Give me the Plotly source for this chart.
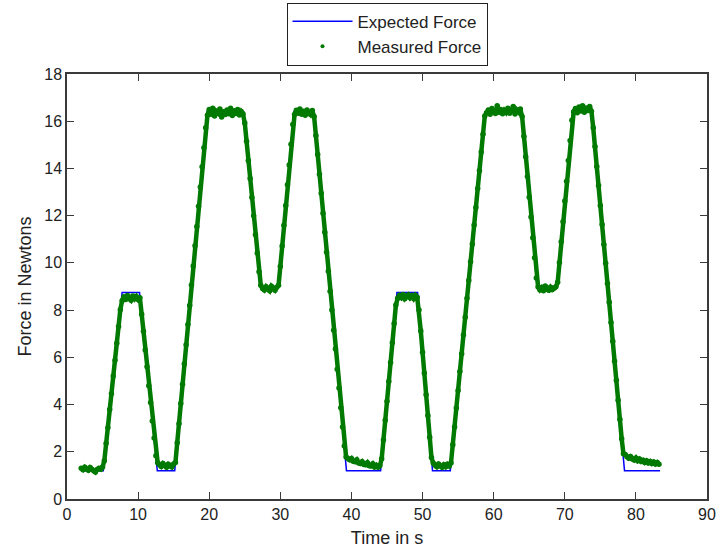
import plotly.graph_objects as go

# Expected (commanded) force profile: corner points of the trapezoidal trajectory
expected_time = [2.0, 5.1, 7.75, 10.2, 12.7, 15.15, 19.7, 24.85, 27.2, 29.75, 31.9, 34.7, 39.3,
                 44.1, 46.4, 49.3, 51.4, 53.9, 58.8, 63.95, 66.1, 68.95, 71.1, 73.8, 78.4, 83.4]
expected_force = [1.2, 1.2, 8.75, 8.75, 1.2, 1.2, 16.4, 16.4, 9.0, 9.0, 16.4, 16.4, 1.2,
                  1.2, 8.75, 8.75, 1.2, 1.2, 16.4, 16.4, 9.0, 9.0, 16.4, 16.4, 1.2, 1.2]

# Measured force, sampled every 0.25 s starting at t = 2 s
sample_start = 2.0
sample_step = 0.25
measured_force = [
    1.30, 1.24, 1.35, 1.27, 1.22, 1.33, 1.26, 1.20, 1.14, 1.25, 1.30, 1.26, 1.36,
    1.62, 2.36, 3.02, 3.79, 4.46, 5.21, 5.88, 6.60, 7.31, 8.02,
    8.40, 8.57, 8.45, 8.62, 8.50, 8.42, 8.60, 8.48, 8.58, 8.45,
    8.52, 7.82, 7.10, 6.31, 5.60, 4.80, 4.09, 3.30, 2.58, 1.83,
    1.54, 1.45, 1.38, 1.50, 1.42, 1.35, 1.47, 1.40, 1.36, 1.48,
    1.55, 2.38, 3.19, 4.05, 4.86, 5.72, 6.53, 7.39, 8.20, 9.06, 9.87, 10.73, 11.54, 12.40,
    13.21, 14.07, 14.88, 15.72,
    16.25, 16.50, 16.30, 16.55, 16.22, 16.42, 16.34, 16.52, 16.18, 16.40, 16.28, 16.48,
    16.32, 16.55, 16.24, 16.44, 16.33, 16.50, 16.26, 16.41, 16.31,
    15.92, 15.15, 14.34, 13.57, 12.77, 12.00, 11.19, 10.42, 9.62,
    9.05, 8.92, 8.85, 8.99, 8.89, 8.82, 9.01, 8.90, 8.84, 8.97, 9.05,
    9.85, 10.71, 11.59, 12.43, 13.31, 14.15, 15.03, 15.86,
    16.28, 16.46, 16.34, 16.52, 16.30, 16.42, 16.25, 16.48, 16.36, 16.29, 16.45,
    16.20, 15.40, 14.59, 13.75, 12.95, 12.10, 11.30, 10.45, 9.65, 8.80, 8.00, 7.15,
    6.35, 5.50, 4.70, 3.86, 3.05, 2.24,
    1.78, 1.72, 1.66, 1.72, 1.60, 1.58, 1.66, 1.53, 1.50, 1.58, 1.46, 1.45, 1.54, 1.41,
    1.40, 1.49, 1.36, 1.43, 1.35, 1.42,
    1.70, 2.50, 3.34, 4.14, 4.98, 5.78, 6.62, 7.43, 8.22,
    8.50, 8.62, 8.53, 8.66, 8.48, 8.60, 8.64, 8.52, 8.61, 8.49, 8.63, 8.55,
    8.00, 7.12, 6.22, 5.34, 4.42, 3.54, 2.62, 1.76,
    1.52, 1.43, 1.37, 1.48, 1.40, 1.34, 1.45, 1.37, 1.47, 1.40,
    1.53, 2.30, 3.05, 3.85, 4.60, 5.40, 6.15, 6.95, 7.70, 8.50, 9.25, 10.05, 10.80, 11.60,
    12.35, 13.15, 13.90, 14.70, 15.45, 16.22,
    16.36, 16.48, 16.30, 16.54, 16.40, 16.33, 16.66, 16.38, 16.50, 16.32, 16.46, 16.37,
    16.55, 16.34, 16.44, 16.62, 16.31, 16.48, 16.39, 16.52,
    16.20, 15.36, 14.50, 13.66, 12.78, 11.94, 11.06, 10.22, 9.36,
    8.98, 8.86, 8.95, 8.82, 9.02, 8.88, 8.84, 8.97, 8.87, 8.93, 8.99,
    9.18, 10.02, 10.90, 11.74, 12.62, 13.46, 14.34, 15.18, 16.04,
    16.40, 16.54, 16.36, 16.60, 16.43, 16.66, 16.38, 16.56, 16.45, 16.62, 16.42,
    15.72, 14.93, 14.08, 13.28, 12.43, 11.63, 10.78, 9.98, 9.13, 8.33, 7.48, 6.68,
    5.83, 5.03, 4.18, 3.38, 2.55, 1.92,
    1.88, 1.79, 1.73, 1.80, 1.69, 1.65, 1.74, 1.62, 1.69, 1.59, 1.64, 1.55, 1.62, 1.53,
    1.59, 1.50, 1.57, 1.48, 1.55, 1.47,
]
measured_time = [sample_start + sample_step * i for i in range(len(measured_force))]

x_ticks = [0, 10, 20, 30, 40, 50, 60, 70, 80, 90]
y_ticks = [0, 2, 4, 6, 8, 10, 12, 14, 16, 18]

BLUE = "#0000ff"
GREEN = "#007a00"
FONT = "Liberation Sans, Arial, Helvetica, sans-serif"
AXIS_COLOR = "#3a3a3a"
TEXT_COLOR = "#222222"

fig = go.Figure()

fig.add_trace(go.Scatter(
    x=expected_time, y=expected_force, mode="lines", name="Expected Force",
    line=dict(color=BLUE, width=1.5),
))

# Dense measured samples: thick band of dots joined together
fig.add_trace(go.Scatter(
    x=measured_time, y=measured_force, mode="lines+markers", name="Measured Force",
    line=dict(color=GREEN, width=4.5),
    marker=dict(color=GREEN, size=5.5),
    showlegend=False,
))

# Legend entry for the measured series (dot only)
fig.add_trace(go.Scatter(
    x=[None], y=[None], mode="markers", name="Measured Force",
    marker=dict(color=GREEN, size=4),
))

axis_common = dict(
    showline=True, linecolor=AXIS_COLOR, linewidth=1.5, mirror="ticks",
    ticks="inside", ticklen=7, tickwidth=1, tickcolor=AXIS_COLOR,
    showgrid=False, zeroline=False, automargin=False,
    tickfont=dict(family=FONT, size=16, color=TEXT_COLOR),
)

fig.update_xaxes(
    range=[0, 90], tickvals=x_ticks,
    title=dict(text="Time in s", font=dict(family=FONT, size=18, color=TEXT_COLOR), standoff=11),
    **axis_common,
)
fig.update_yaxes(
    range=[0, 18], tickvals=y_ticks,
    title=dict(text="Force in Newtons", font=dict(family=FONT, size=18, color=TEXT_COLOR), standoff=8),
    **axis_common,
)

fig.update_layout(
    width=726, height=548,
    margin=dict(l=67, r=19, t=74, b=49, autoexpand=False),
    paper_bgcolor="white", plot_bgcolor="white",
    showlegend=True,
    legend=dict(
        x=0.5, xanchor="center", y=1.168, yanchor="top",
        bgcolor="white", bordercolor=TEXT_COLOR, borderwidth=1,
        font=dict(family=FONT, size=17, color=TEXT_COLOR),
        itemwidth=60, tracegroupgap=0,
    ),
)

fig.write_html("out.html")
